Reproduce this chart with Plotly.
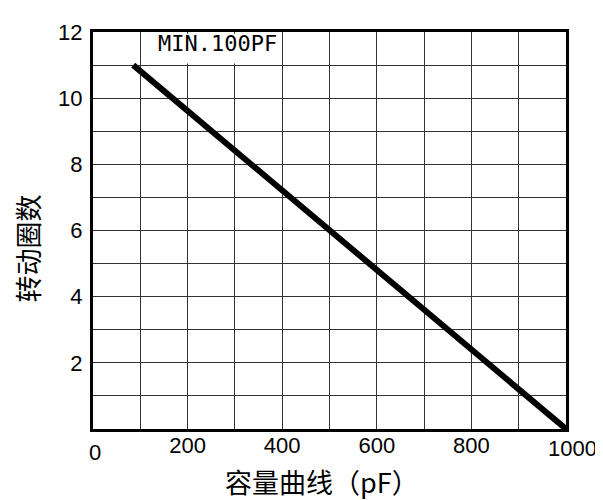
import plotly.graph_objects as go

# Data
capacitance_pf = [85, 1000]
turns = [11, 0]

x_tick_vals = [100, 200, 300, 400, 500, 600, 700, 800, 900, 1000]
x_tick_text = ["", "200", "", "400", "", "600", "", "800", "", ""]
y_tick_vals = [1, 2, 3, 4, 5, 6, 7, 8, 9, 10, 11, 12]
y_tick_text = ["", "2", "", "4", "", "6", "", "8", "", "10", "", "12"]

label_text = "MIN.100PF"
x_title = "容量曲线（pF）"
y_title = "转动圈数"

fig = go.Figure()
fig.add_trace(go.Scatter(
    x=capacitance_pf, y=turns, mode="lines",
    line=dict(color="black", width=6), hoverinfo="skip", showlegend=False,
    cliponaxis=False,
))

grid_color = "#333333"
tick_font = dict(family="Liberation Sans, Arial, sans-serif", size=22, color="black")
cjk_font = dict(family="Noto Sans CJK SC, sans-serif", size=27, color="black")

fig.update_layout(
    width=595, height=492,
    margin=dict(l=85, r=37, t=15, b=71),
    paper_bgcolor="white", plot_bgcolor="white",
    xaxis=dict(
        range=[0, 1000], tickmode="array", tickvals=x_tick_vals, ticktext=x_tick_text,
        showgrid=True, gridcolor=grid_color, gridwidth=1,
        showline=True, linecolor="black", linewidth=3, mirror=True,
        ticks="", tickfont=tick_font, zeroline=False, ticklabelstandoff=-5,
    ),
    yaxis=dict(
        range=[0, 12], tickmode="array", tickvals=y_tick_vals, ticktext=y_tick_text,
        showgrid=True, gridcolor=grid_color, gridwidth=1,
        showline=True, linecolor="black", linewidth=3, mirror=True,
        ticks="", tickfont=tick_font, zeroline=False, ticklabelstandoff=3,
    ),
    shapes=[dict(
        type="rect", xref="x", yref="y", x0=104, x1=396, y0=11.05, y1=11.95,
        fillcolor="white", line=dict(width=0), layer="between",
    )],
    annotations=[
        dict(text=label_text, x=263, y=11.65, xref="x", yref="y", showarrow=False,
             font=dict(family="DejaVu Sans Mono, monospace", size=22, color="black")),
        dict(text="0", x=4, y=-0.059, xref="x", yref="paper", showarrow=False,
             yanchor="middle", font=tick_font),
        dict(text="1000", x=1000, y=-0.05, xref="x", yref="paper", showarrow=False,
             xshift=6, yanchor="middle", font=tick_font),
        dict(text=x_title, x=0.484, y=-0.133, xref="paper", yref="paper", showarrow=False,
             yanchor="middle", font=cjk_font),
        dict(text=y_title, x=-0.1395, y=0.455, xref="paper", yref="paper", showarrow=False,
             textangle=-90, xanchor="center", yanchor="middle", font=cjk_font),
    ],
)

fig.write_html("out.html")
